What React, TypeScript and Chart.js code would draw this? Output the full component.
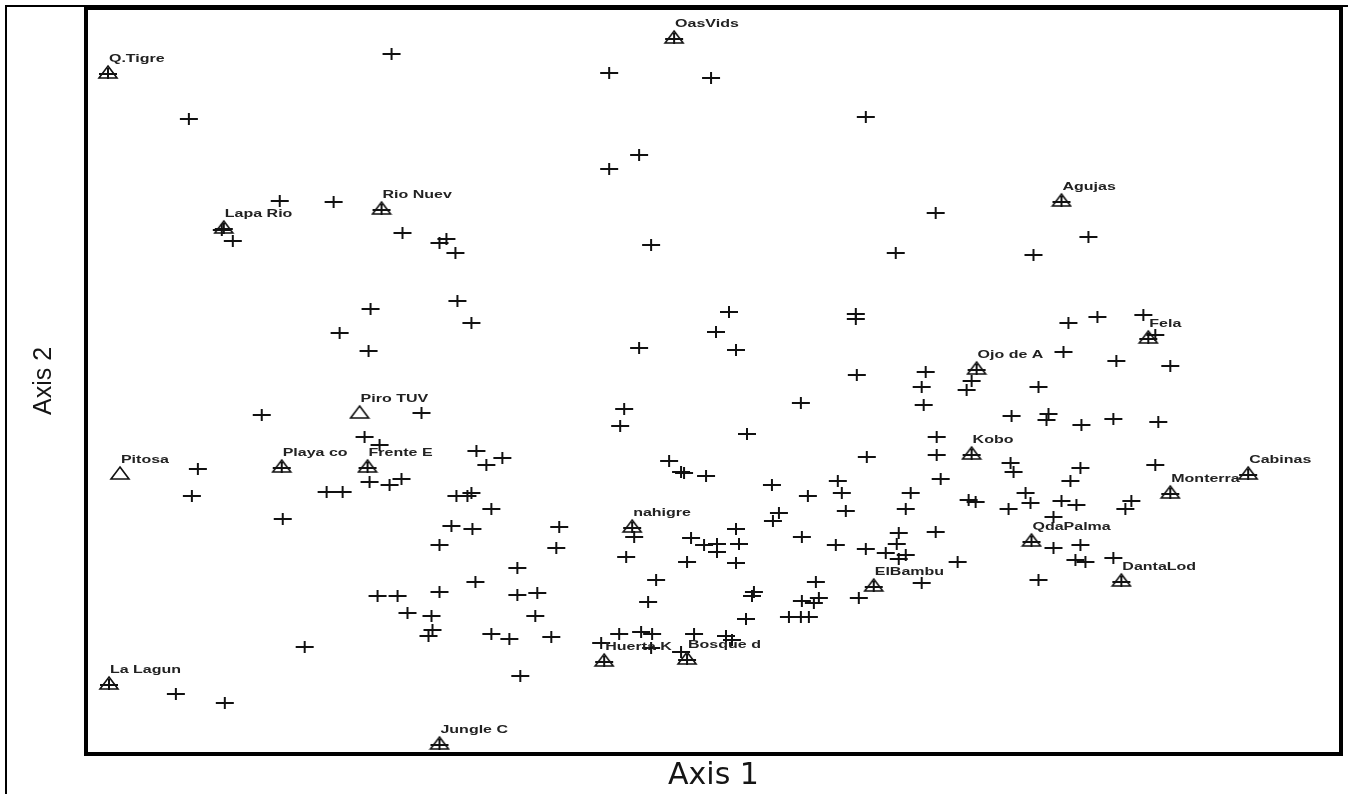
import React, { useEffect, useRef } from 'react';
import { Chart, registerables } from 'chart.js';

Chart.register(...registerables);

// Axis extents (ordination score units)
const axis1Range = [0, 1253];
const axis2Range = [0, 742];

const axis1Title = 'Axis 1';
const axis2Title = 'Axis 2';

// Species scores (crosses)
const speciesX = [
  304, 522, 624, 101, 779, 552, 522, 192, 246, 849,
  1002, 947, 809, 564, 315, 352, 359, 368, 145, 370,
  384, 283, 252, 281, 642, 629, 649, 552, 769, 769,
  770, 982, 1011, 1057, 1069, 977, 1030, 1084, 839, 835,
  885, 880, 952, 837, 714, 174, 334, 537, 533, 660,
  925, 962, 960, 995, 1027, 1072, 850, 277, 292, 110,
  104, 389, 399, 415, 282, 302, 314, 239, 255, 195,
  369, 380, 384, 404, 364, 385, 780, 582, 594, 597,
  619, 685, 721, 751, 755, 759, 824, 819, 692, 686,
  472, 649, 812, 715, 547, 604, 850, 924, 927, 994,
  1069, 854, 984, 882, 889, 939, 944, 922, 975, 990,
  1045, 1039, 967, 849, 967, 994, 989, 999, 1027, 952,
  871, 835, 810, 469, 430, 430, 450, 448, 422, 464,
  433, 539, 569, 561, 617, 630, 630, 652, 600, 649,
  749, 779, 799, 819, 812, 729, 667, 665, 732, 727,
  715, 772, 702, 714, 722, 659, 532, 554, 565, 514,
  564, 607, 639, 645, 594, 352, 388, 290, 310, 352,
  320, 344, 345, 341, 404, 217, 88, 137, 134,
];
const speciesY = [
  698, 679, 674, 633, 635, 597, 583, 551, 550, 539,
  515, 497, 499, 507, 519, 509, 513, 499, 511, 451,
  429, 443, 419, 401, 440, 420, 402, 404, 438, 433,
  377, 429, 435, 437, 417, 400, 391, 386, 380, 365,
  371, 362, 365, 347, 349, 337, 339, 343, 326, 318,
  336, 338, 332, 327, 333, 330, 315, 315, 307, 283,
  256, 301, 287, 294, 270, 267, 273, 260, 260, 233,
  256, 256, 259, 243, 226, 223, 295, 291, 280, 279,
  276, 267, 256, 271, 259, 241, 259, 243, 239, 231,
  225, 223, 219, 215, 215, 214, 297, 289, 280, 284,
  287, 273, 271, 252, 250, 259, 249, 243, 251, 247,
  251, 243, 235, 220, 204, 207, 192, 190, 194, 172,
  190, 169, 208, 204, 184, 157, 159, 136, 113, 115,
  76, 195, 172, 150, 207, 208, 200, 208, 190, 189,
  207, 203, 199, 197, 193, 170, 160, 156, 154, 149,
  151, 154, 135, 135, 135, 133, 118, 120, 118, 109,
  104, 118, 116, 112, 100, 207, 170, 156, 156, 160,
  139, 136, 122, 116, 118, 105, 58, 49, 522,
];

// Sample units (triangles)
const siteNames = [
  'Q.Tigre', 'OasVids', 'Rio Nuev', 'Lapa Rio', 'Agujas', 'Fela', 'Ojo de A',
  'Piro TUV', 'Pitosa', 'Playa co', 'Frente E', 'Kobo', 'Cabinas', 'Monterra',
  'nahigre', 'QdaPalma', 'ElBambu', 'DantaLod', 'Huerta K', 'Bosque d',
  'La Lagun', 'Jungle C',
];
const siteX = [20, 587, 294, 136, 975, 1062, 890, 272, 32, 194, 280, 885, 1162, 1084, 545, 945, 787, 1035, 517, 600, 21, 352];
const siteY = [680, 715, 544, 525, 552, 415, 384, 340, 279, 286, 286, 299, 279, 260, 226, 212, 167, 172, 92, 94, 69, 9];
const plainSites = ['Piro TUV', 'Pitosa'];

function makeCross(): HTMLCanvasElement {
  const c = document.createElement('canvas');
  c.width = 20;
  c.height = 14;
  const g = c.getContext('2d') as CanvasRenderingContext2D;
  g.fillStyle = '#111';
  g.fillRect(1, 6, 18, 2);
  g.fillRect(9, 1, 2, 12);
  return c;
}

function makeTriangle(withCross: boolean): HTMLCanvasElement {
  const c = document.createElement('canvas');
  c.width = 22;
  c.height = 16;
  const g = c.getContext('2d') as CanvasRenderingContext2D;
  g.strokeStyle = '#111';
  g.lineWidth = 1.6;
  g.beginPath();
  g.moveTo(11, 2);
  g.lineTo(20, 14);
  g.lineTo(2, 14);
  g.closePath();
  g.stroke();
  if (withCross) {
    g.fillStyle = '#111';
    g.fillRect(2, 9, 18, 2);
    g.fillRect(10, 4, 2, 11);
  }
  return c;
}

const framePlugin = {
  id: 'frame',
  afterDraw(chart: any) {
    const { ctx, chartArea } = chart;
    ctx.save();
    ctx.strokeStyle = '#000';
    ctx.lineWidth = 4;
    ctx.strokeRect(chartArea.left - 2, chartArea.top - 2, chartArea.right - chartArea.left + 4, chartArea.bottom - chartArea.top + 4);
    ctx.restore();
  },
};

const siteLabelPlugin = {
  id: 'siteLabels',
  afterDatasetsDraw(chart: any) {
    const meta = chart.getDatasetMeta(1);
    const ctx = chart.ctx;
    ctx.save();
    ctx.font = 'bold 10px "Liberation Sans", Arial, sans-serif';
    ctx.fillStyle = '#222';
    ctx.textBaseline = 'middle';
    ctx.textAlign = 'left';
    meta.data.forEach((el: any, i: number) => {
      ctx.save();
      ctx.translate(el.x + 1, el.y - 13);
      ctx.scale(1.6, 1);
      ctx.fillText(siteNames[i], 0, 0);
      ctx.restore();
    });
    ctx.restore();
  },
};

export default function App() {
  const canvasRef = useRef<HTMLCanvasElement | null>(null);

  useEffect(() => {
    if (!canvasRef.current) return;
    const cross = makeCross();
    const triCross = makeTriangle(true);
    const triPlain = makeTriangle(false);

    const chart = new Chart(canvasRef.current, {
      type: 'scatter',
      data: {
        datasets: [
          {
            label: 'Species',
            data: speciesX.map((x, i) => ({ x, y: speciesY[i] })),
            pointStyle: cross as any,
            pointRadius: 8,
            pointHoverRadius: 8,
          },
          {
            label: 'Sites',
            data: siteX.map((x, i) => ({ x, y: siteY[i] })),
            pointStyle: siteNames.map((n) => (plainSites.includes(n) ? triPlain : triCross)) as any,
            pointRadius: 8,
            pointHoverRadius: 8,
          },
        ],
      },
      options: {
        animation: false,
        responsive: false,
        devicePixelRatio: 1,
        events: [],
        layout: { padding: { top: 10, right: 7, left: 0, bottom: 0 } },
        plugins: {
          legend: { display: false },
          tooltip: { enabled: false },
        },
        scales: {
          x: {
            type: 'linear',
            min: axis1Range[0],
            max: axis1Range[1],
            grid: { display: false, drawTicks: false },
            border: { display: false },
            ticks: { display: false },
            title: {
              display: true,
              text: axis1Title,
              color: '#151515',
              font: { family: '"DejaVu Sans", sans-serif', size: 30 },
              padding: { top: 0, bottom: 0 },
            },
            afterFit: (s: any) => {
              s.height = 42;
            },
          },
          y: {
            type: 'linear',
            min: axis2Range[0],
            max: axis2Range[1],
            grid: { display: false, drawTicks: false },
            border: { display: false },
            ticks: { display: false },
            title: {
              display: true,
              text: axis2Title,
              color: '#151515',
              font: { family: '"Liberation Sans", Arial, sans-serif', size: 25 },
              padding: { top: 29, bottom: 0 },
            },
            afterFit: (s: any) => {
              s.width = 88;
            },
          },
        },
      },
      plugins: [framePlugin, siteLabelPlugin],
    });
    return () => chart.destroy();
  }, []);

  return (
    <div style={{ position: 'fixed', left: 0, top: 0, width: 1348, height: 794, background: '#fff' }}>
      <canvas ref={canvasRef} width={1348} height={794} style={{ display: 'block' }} />
      <div
        style={{
          position: 'absolute',
          left: 5,
          top: 5,
          width: 1343,
          height: 789,
          borderLeft: '2px solid #000',
          borderTop: '2px solid #000',
          boxSizing: 'border-box',
          pointerEvents: 'none',
        }}
      />
    </div>
  );
}
